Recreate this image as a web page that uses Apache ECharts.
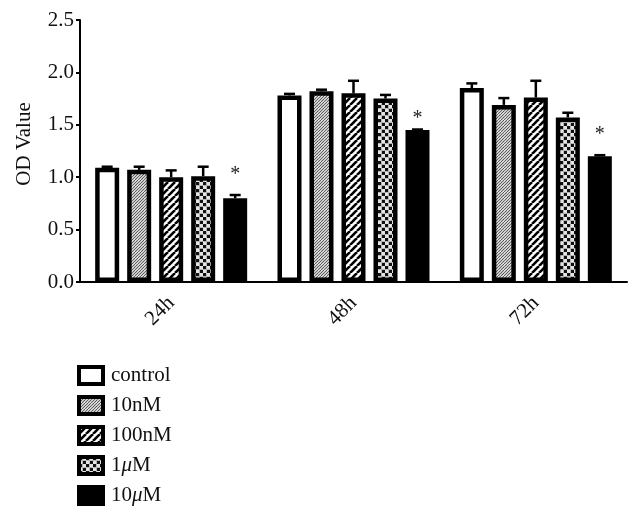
<!DOCTYPE html>
<html>
<head>
<meta charset="utf-8">
<script src="https://cdn.jsdelivr.net/npm/echarts@6/dist/echarts.min.js"></script>
<style>html,body{margin:0;padding:0;background:#fff;}#c{width:643px;height:526px;}</style>
</head>
<body>
<div id="c"></div>
<script>
// ---- data ----
const categories = ['24h', '48h', '72h'];
const seriesNames = ['control', '10nM', '100nM', '1μM', '10μM'];
const controlVals = [1.09, 1.78, 1.85];
const nM10Vals    = [1.07, 1.82, 1.69];
const nM100Vals   = [1.00, 1.80, 1.76];
const uM1Vals     = [1.01, 1.75, 1.57];
const uM10Vals    = [0.80, 1.45, 1.20];
const controlErr  = [0.01, 0.015, 0.045];
const nM10Err     = [0.03, 0.015, 0.065];
const nM100Err    = [0.065, 0.12, 0.16];
const uM1Err      = [0.09, 0.035, 0.045];
const uM10Err     = [0.03, 0.005, 0.01];
const sigLabel    = ['*', '*', '*'];
const sigMarkY    = [1.05, 1.59, 1.43];
const yTicks      = ['0.0', '0.5', '1.0', '1.5', '2.0', '2.5'];

const values = [controlVals, nM10Vals, nM100Vals, uM1Vals, uM10Vals];
const errs = [controlErr, nM10Err, nM100Err, uM1Err, uM10Err];

// ---- patterns ----
function mk(w, h, draw) {
  const c = document.createElement('canvas');
  c.width = w; c.height = h;
  const g = c.getContext('2d');
  g.fillStyle = '#fff'; g.fillRect(0, 0, w, h);
  draw(g, w, h);
  return c;
}
function diag(g, w, h, step, lw, col) {
  g.strokeStyle = col; g.lineWidth = lw;
  for (let k = -h; k <= w + h; k += step) {
    g.beginPath(); g.moveTo(k, h); g.lineTo(k + h, 0); g.stroke();
  }
}
const patFine = mk(6, 6, (g, w, h) => diag(g, w, h, 3, 1.1, '#555'));
const patWide = mk(7, 7, (g, w, h) => diag(g, w, h, 7, 2.6, '#000'));
const patChk = mk(7, 7, (g) => {
  g.fillStyle = '#111';
  g.fillRect(0, 0, 3.5, 3.5); g.fillRect(3.5, 3.5, 3.5, 3.5);
  g.fillStyle = '#e4e4e4';
  g.fillRect(3.5, 0, 3.5, 3.5); g.fillRect(0, 3.5, 3.5, 3.5);
});
const fills = [
  '#ffffff',
  { image: patFine, repeat: 'repeat' },
  { image: patWide, repeat: 'repeat' },
  { image: patChk, repeat: 'repeat' },
  '#000000'
];

const FONT = '"Liberation Serif", "Times New Roman", serif';
const BAR_W = 24;
const GAP = 8;
const pitch = BAR_W + GAP;

const series = [];
seriesNames.forEach((name, i) => {
  series.push({
    name: name,
    type: 'bar',
    data: values[i],
    barWidth: BAR_W,
    barGap: (GAP / BAR_W * 100) + '%',
    z: 3,
    itemStyle: { color: fills[i], borderColor: '#000', borderWidth: 4.5 }
  });
});
seriesNames.forEach((name, i) => {
  const off = (i - 2) * pitch;
  series.push({
    type: 'custom',
    z: 2,
    silent: true,
    data: categories.map((c, j) => [j, values[i][j], errs[i][j]]),
    renderItem: function (params, api) {
      const base = api.coord([api.value(0), api.value(1)]);
      const top = api.coord([api.value(0), api.value(1) + api.value(2)]);
      const x = base[0] + off;
      const st = { stroke: '#000', lineWidth: 2.5 };
      return {
        type: 'group',
        children: [
          { type: 'line', shape: { x1: x, y1: base[1], x2: x, y2: top[1] }, style: st },
          { type: 'line', shape: { x1: x - 5.5, y1: top[1], x2: x + 5.5, y2: top[1] }, style: st }
        ]
      };
    }
  });
});
// significance markers
series.push({
  type: 'custom',
  z: 4,
  silent: true,
  data: categories.map((c, j) => [j, sigMarkY[j], sigLabel[j]]),
  renderItem: function (params, api) {
    const p = api.coord([api.value(0), api.value(1)]);
    return {
      type: 'text',
      x: p[0] + 2 * pitch,
      y: p[1] + 3,
      style: {
        text: sigLabel[params.dataIndex],
        fill: '#222',
        font: '20px ' + FONT,
        align: 'center',
        verticalAlign: 'middle'
      }
    };
  }
});

const chart = echarts.init(document.getElementById('c'), null, { renderer: 'canvas' });
chart.setOption({
  animation: false,
  backgroundColor: '#fff',
  grid: { left: 80, right: 16, top: 20, bottom: 244 },
  legend: {
    data: seriesNames,
    orient: 'vertical',
    left: 72,
    top: 360,
    itemWidth: 24,
    itemHeight: 17,
    itemGap: 9,
    icon: 'rect',
    itemStyle: { borderColor: '#000', borderWidth: 4 },
    textStyle: {
      fontFamily: FONT, fontSize: 21, color: '#111', lineHeight: 21,
      padding: [0, 0, 0, 3],
      rich: { i: { fontFamily: FONT, fontSize: 21, fontStyle: 'italic', color: '#111' } }
    },
    formatter: function (n) { return n.replace('μ', '{i|μ}'); }
  },
  xAxis: {
    type: 'category',
    data: categories,
    axisLine: { lineStyle: { color: '#000', width: 2 } },
    axisTick: { alignWithLabel: true, length: 5, lineStyle: { color: '#000', width: 2 } },
    axisLabel: { rotate: 45, margin: 18, fontFamily: FONT, fontSize: 21, color: '#111' }
  },
  yAxis: {
    type: 'value',
    min: 0, max: 2.5, interval: 0.5,
    name: 'OD Value',
    nameLocation: 'middle',
    nameGap: 45,
    nameTextStyle: { fontFamily: FONT, fontSize: 21, color: '#111', padding: [0, 0, 0, 14] },
    axisLine: { show: true, lineStyle: { color: '#000', width: 2 } },
    axisTick: { show: true, length: 4, lineStyle: { color: '#000', width: 2 } },
    splitLine: { show: false },
    axisLabel: {
      margin: 6, fontFamily: FONT, fontSize: 21, color: '#111',
      formatter: function (v) { return yTicks[Math.round(v / 0.5)]; }
    }
  },
  series: series
});
</script>
</body>
</html>
